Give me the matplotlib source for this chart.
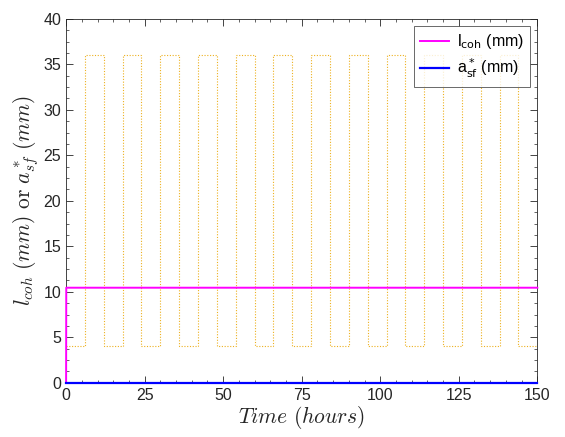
import matplotlib
matplotlib.use('Agg')
from matplotlib import pyplot as plt
from matplotlib.ticker import MultipleLocator, AutoMinorLocator

# stress cycle (dotted orange), stepwise in hours
cycle_edges = [0, 6, 12, 18, 24, 30, 36, 42, 48, 54, 60, 66, 72, 78, 84, 90,
               96, 102, 108, 114, 120, 126, 132, 138, 144, 150]
cycle_levels = [4, 36, 4, 36, 4, 36, 4, 36, 4, 36, 4, 36, 4, 36, 4, 36,
                4, 36, 4, 36, 4, 36, 4, 36, 4]

# l_coh (mm)
lcoh_time = [0, 0.05, 150]
lcoh_val = [0, 10.45, 10.45]

# a*_sf (mm)
asf_time = [0, 150]
asf_val = [0, 0]

plt.rcParams['font.family'] = ['Liberation Sans', 'DejaVu Sans']
plt.rcParams['mathtext.fontset'] = 'cm'

fig = plt.figure(figsize=(5.65, 4.37), dpi=100)
ax = fig.add_axes([0.117, 0.124, 0.834, 0.833])

ax.stairs(cycle_levels, cycle_edges, baseline=None, color='#EDB120',
          linestyle=(0, (1, 1.5)), linewidth=0.8)
ax.plot(lcoh_time, lcoh_val, color='#FF00FF', linewidth=1.4, clip_on=False,
        label=r'l$_{\mathrm{coh}}$ (mm)', zorder=3)
ax.plot(asf_time, asf_val, color='#0000FF', linewidth=1.6, clip_on=False,
        label=r'a$^*_{\mathrm{sf}}$ (mm)', zorder=3)

ax.set_xlim(0, 150)
ax.set_ylim(0, 40)
ax.xaxis.set_major_locator(MultipleLocator(25))
ax.xaxis.set_minor_locator(MultipleLocator(5))
ax.yaxis.set_major_locator(MultipleLocator(5))
ax.yaxis.set_minor_locator(AutoMinorLocator(4))
ax.tick_params(which='both', direction='in', top=True, right=True,
               labelsize=11.5, colors='#262626', labelcolor='#262626')
ax.tick_params(which='major', length=5, width=0.6)
ax.tick_params(which='minor', length=2.5, width=0.5)
for s in ax.spines.values():
    s.set_color('#262626')
    s.set_linewidth(0.6)

ax.set_xlabel(r'$Time\ (hours)$', fontsize=15.5, labelpad=1, color='#262626')
ax.set_ylabel(r'$l_{coh}\ (mm)\ \mathrm{or}\ a^*_{sf}\ (mm)$', fontsize=15.5,
              labelpad=2, color='#262626')

leg = ax.legend(loc='upper right', fontsize=11.5, frameon=True, fancybox=False,
                edgecolor='#262626', handlelength=1.8, borderaxespad=0.45,
                labelspacing=0.35, handletextpad=0.5)
leg.get_frame().set_linewidth(0.6)
for t in leg.get_texts():
    t.set_math_fontfamily('dejavusans')

fig.savefig('out.png', dpi=100)
